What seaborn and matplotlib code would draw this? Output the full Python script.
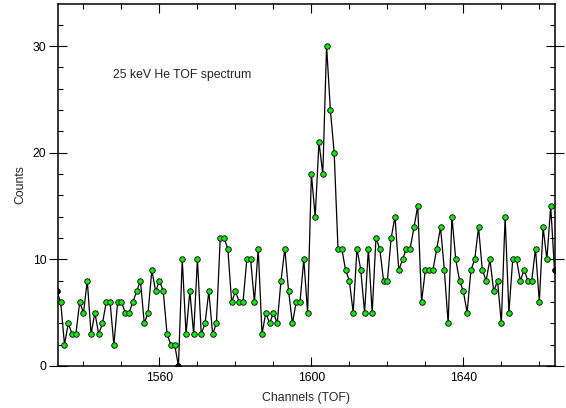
import numpy as np
import pandas as pd
import matplotlib
matplotlib.use("Agg")
import matplotlib.pyplot as plt
import seaborn as sns
from matplotlib.ticker import MultipleLocator, FixedLocator

# ---- data -------------------------------------------------------------
first_channel = 1533
counts = [
    7, 6, 2, 4, 3, 3, 6, 5, 8, 3, 5, 3, 4, 6, 6, 2, 6, 6, 5, 5,
    6, 7, 8, 4, 5, 9, 7, 8, 7, 3, 2, 2, 0, 10, 3, 7, 3, 10, 3, 4,
    7, 3, 4, 12, 12, 11, 6, 7, 6, 6, 10, 10, 6, 11, 3, 5, 4, 5, 4, 8,
    11, 7, 4, 6, 6, 10, 5, 18, 14, 21, 18, 30, 24, 20, 11, 11, 9, 8, 5, 11,
    9, 5, 11, 5, 12, 11, 8, 8, 12, 14, 9, 10, 11, 11, 13, 15, 6, 9, 9, 9,
    11, 13, 9, 4, 14, 10, 8, 7, 5, 9, 10, 13, 9, 8, 10, 7, 8, 4, 14, 5,
    10, 10, 8, 9, 8, 8, 11, 6, 13, 10, 15, 9,
]
channels = np.arange(first_channel, first_channel + len(counts))
x_major_ticks = [1560, 1600, 1640]
y_major_ticks = [0, 10, 20, 30]
title_text = "25 keV He TOF spectrum"
x_label = "Channels (TOF)"
y_label = "Counts"

df = pd.DataFrame({"channel": channels, "counts": counts})

# ---- style ------------------------------------------------------------
sns.set_style("ticks")
plt.rcParams["font.family"] = ["Liberation Sans", "DejaVu Sans"]
FS = 8.8
plt.rcParams["font.size"] = FS

fig = plt.figure(figsize=(5.66, 4.08), dpi=100)
ax = fig.add_axes([58.3 / 566, 1 - 366 / 408, (554.5 - 58.3) / 566, (366 - 4) / 408])

sns.lineplot(data=df, x="channel", y="counts", ax=ax, color="black",
             linewidth=0.9, marker="o", markersize=4.0,
             markerfacecolor="#14e614", markeredgecolor="black",
             markeredgewidth=0.6, estimator=None, sort=False)

# edge points (clipped) drawn dark as in the reference
edge = df[(df["counts"] == 0) | (df.index == 0) | (df.index == len(df) - 1)]
ax.plot(edge["channel"], edge["counts"], "o", color="black", markersize=3.2,
        zorder=4)

ax.set_xlim(1533.37, 1664.0)
ax.set_ylim(0, 33.95)

ax.xaxis.set_major_locator(FixedLocator(x_major_ticks))
ax.xaxis.set_minor_locator(MultipleLocator(10))
ax.yaxis.set_major_locator(FixedLocator(y_major_ticks))
ax.yaxis.set_minor_locator(MultipleLocator(2))

ax.tick_params(axis="x", which="both", direction="in", top=True, bottom=True,
               width=0.8, colors="black", labelsize=FS, pad=4)
ax.tick_params(axis="x", which="major", length=6.5)
ax.tick_params(axis="x", which="minor", length=3.5)
ax.tick_params(axis="y", which="both", left=True, right=True, width=0.8,
               colors="black", labelsize=FS)
ax.tick_params(axis="y", which="major", direction="inout", length=13, pad=2)
ax.tick_params(axis="y", which="minor", direction="in", length=3.5)

for s in ax.spines.values():
    s.set_visible(True)
    s.set_color("black")
    s.set_linewidth(1.1)

ax.set_xlabel(x_label, fontsize=FS, labelpad=6)
ax.set_ylabel(y_label, fontsize=FS, labelpad=5)

ax.text(0.11, 0.804, title_text, transform=ax.transAxes, fontsize=FS,
        ha="left", va="center")

fig.savefig("out.png", dpi=100)
